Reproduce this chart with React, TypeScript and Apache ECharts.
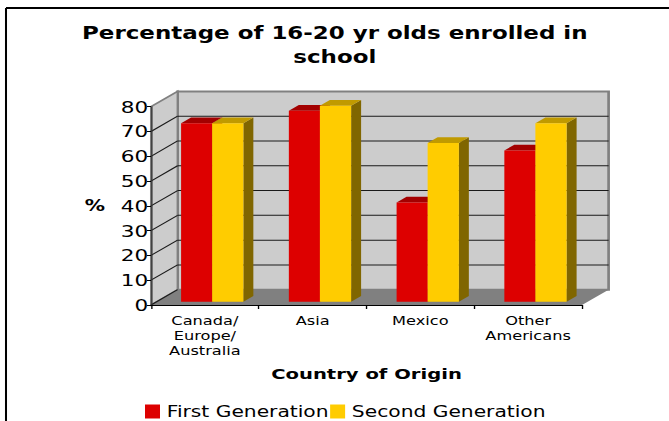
import React, { useEffect, useRef } from "react";
import * as echarts from "echarts";

const categories = ["Canada/\nEurope/\nAustralia", "Asia", "Mexico", "Other\nAmericans"];
const firstGeneration = [72, 77, 40, 61];
const secondGeneration = [72, 79, 64, 72];
const yTicks = [0, 10, 20, 30, 40, 50, 60, 70, 80];
const seriesNames = ["First Generation", "Second Generation"];
const titleText = "Percentage of 16-20 yr olds enrolled in\nschool";

// the reference is horizontally stretched; the chart is laid out narrower and stretched by CSS
const SX = 1.35;
const VIEW_W = 669;
const VIEW_H = 421;
const CW = VIEW_W / SX;
const DX = 26.6 / SX;
const DY = -15.3;
const F0 = 0.22;
const F1 = 0.595;
const FONT = "DejaVu Sans, Verdana, sans-serif";

function frameRenderer(params: any, api: any) {
  const band = api.size([1, 0])[0];
  const yMax = yTicks[yTicks.length - 1];
  const p0 = api.coord([0, 0]);
  const p3 = api.coord([categories.length - 1, 0]);
  const left = p0[0] - band / 2;
  const right = p3[0] + band / 2;
  const yBot = p0[1];
  const yTop = api.coord([0, yMax])[1];
  const children: any[] = [
    {
      type: "polygon",
      shape: { points: [[left, yBot], [right, yBot], [right + DX, yBot + DY], [left + DX, yBot + DY]] },
      style: { fill: "#808080" },
    },
    {
      type: "rect",
      shape: { x: left + DX, y: yTop + DY, width: right - left, height: yBot - yTop },
      style: { fill: "#cccccc", stroke: "#808080", lineWidth: 2 },
    },
    {
      type: "polygon",
      shape: { points: [[left, yTop], [left + DX, yTop + DY], [left + DX, yBot + DY], [left, yBot]] },
      style: { fill: "#cccccc", stroke: "#808080", lineWidth: 1.5 },
    },
  ];
  yTicks.forEach((v) => {
    const y = api.coord([0, v])[1];
    if (v > 0 && v < yMax) {
      children.push({
        type: "line",
        shape: { x1: left + DX, y1: y + DY, x2: right + DX, y2: y + DY },
        style: { stroke: "#1a1a1a", lineWidth: 1 },
      });
    }
    if (v < yMax) {
      children.push({
        type: "line",
        shape: { x1: left, y1: y, x2: left + DX, y2: y + DY },
        style: { stroke: "#1a1a1a", lineWidth: 1 },
      });
    }
  });
  return { type: "group", children };
}

function makeBarRenderer(slot: number, front: string, top: string, side: string) {
  return (params: any, api: any) => {
    const cat = api.value(0);
    const val = api.value(1);
    const band = api.size([1, 0])[0];
    const basePt = api.coord([cat, 0]);
    const topPt = api.coord([cat, val]);
    const base = basePt[1];
    const yt = topPt[1];
    const left = basePt[0] - band / 2;
    const x0 = left + (slot === 0 ? 0.225 : 0.513) * band;
    const w = 0.29 * band;
    const fx = F0 * DX, fy = F0 * DY, bx = F1 * DX, by = F1 * DY;
    return {
      type: "group",
      children: [
        {
          type: "polygon",
          shape: { points: [[x0 + w + fx, yt + fy], [x0 + w + bx, yt + by], [x0 + w + bx, base + by], [x0 + w + fx, base + fy]] },
          style: { fill: side },
        },
        {
          type: "polygon",
          shape: { points: [[x0 + fx, yt + fy], [x0 + w + fx, yt + fy], [x0 + w + bx, yt + by], [x0 + bx, yt + by]] },
          style: { fill: top },
        },
        {
          type: "rect",
          shape: { x: x0 + fx, y: yt + fy, width: w, height: base - yt },
          style: { fill: front },
        },
      ],
    };
  };
}

const option: any = {
  animation: false,
  backgroundColor: "#ffffff",
  title: {
    text: titleText,
    left: "center",
    top: 21,
    padding: [0, 0, 0, 6.4],
    textStyle: { fontFamily: FONT, fontWeight: "bold", fontSize: 17, lineHeight: 24, color: "#000" },
  },
  legend: {
    data: seriesNames,
    left: 145 / SX,
    top: 404,
    padding: 0,
    icon: "rect",
    itemWidth: 15 / SX,
    itemHeight: 14,
    itemGap: 1,
    textStyle: { fontFamily: FONT, fontSize: 15, lineHeight: 14, color: "#000" },
  },
  graphic: [
    { type: "line", shape: { x1: 6 / SX, y1: 8, x2: CW + 10, y2: 8 }, style: { stroke: "#000", lineWidth: 2 } },
    { type: "line", shape: { x1: 6 / SX, y1: 8, x2: 6 / SX, y2: VIEW_H + 10 }, style: { stroke: "#000", lineWidth: 1.5 } },
  ],
  grid: { left: 151 / SX, top: 106.7, width: 431 / SX, height: 198.3, containLabel: false },
  xAxis: {
    type: "category",
    data: categories,
    z: 10,
    name: "Country of Origin",
    nameLocation: "middle",
    nameGap: 61,
    nameTextStyle: { fontFamily: FONT, fontWeight: "bold", fontSize: 14.5, color: "#000" },
    axisLine: { show: true, lineStyle: { color: "#000", width: 1 } },
    axisTick: { show: true, length: 4, lineStyle: { color: "#000" } },
    axisLabel: { interval: 0, margin: 8, fontFamily: FONT, fontSize: 12, lineHeight: 15, color: "#000" },
    splitLine: { show: false },
  },
  yAxis: {
    type: "value",
    min: 0,
    max: yTicks[yTicks.length - 1],
    interval: 10,
    z: 10,
    name: "%",
    nameLocation: "middle",
    nameRotate: 0,
    nameGap: 34,
    nameTextStyle: { fontFamily: FONT, fontWeight: "bold", fontSize: 15, color: "#000" },
    axisLine: { show: true, lineStyle: { color: "#333", width: 1 } },
    axisTick: { show: true, length: 3, lineStyle: { color: "#000" } },
    axisLabel: { margin: 2, fontFamily: FONT, fontSize: 16, color: "#000" },
    splitLine: { show: false },
  },
  series: [
    {
      type: "custom",
      name: "frame",
      silent: true,
      z: 1,
      data: [[0, 0]],
      renderItem: frameRenderer,
    },
    {
      type: "custom",
      name: seriesNames[0],
      silent: true,
      z: 2,
      itemStyle: { color: "#dd0000" },
      data: firstGeneration.map((v, i) => [i, v]),
      renderItem: makeBarRenderer(0, "#dd0000", "#a30000", "#700000"),
    },
    {
      type: "custom",
      name: seriesNames[1],
      silent: true,
      z: 3,
      itemStyle: { color: "#ffcc00" },
      data: secondGeneration.map((v, i) => [i, v]),
      renderItem: makeBarRenderer(1, "#ffcc00", "#c09a00", "#806600"),
    },
  ],
};

export default function App() {
  const ref = useRef<HTMLDivElement>(null);
  useEffect(() => {
    const chart = echarts.init(ref.current as HTMLDivElement, undefined, { renderer: "svg" });
    chart.setOption(option);
    return () => chart.dispose();
  }, []);
  return (
    <div
      ref={ref}
      style={{
        position: "absolute",
        left: 0,
        top: 0,
        width: CW,
        height: VIEW_H,
        transform: `scaleX(${SX})`,
        transformOrigin: "0 0",
      }}
    />
  );
}
